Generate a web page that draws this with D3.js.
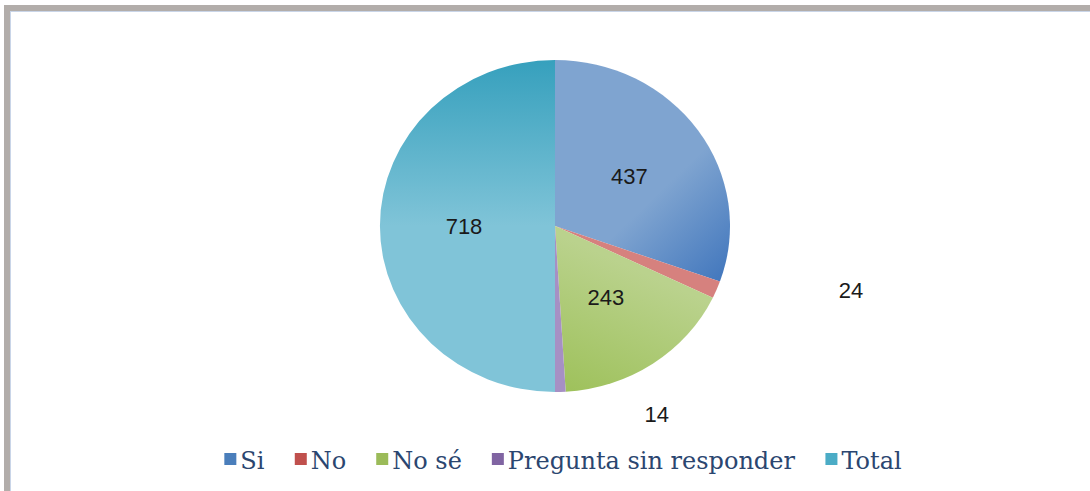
<!DOCTYPE html>
<html>
<head>
<meta charset="utf-8">
<script src="https://cdn.jsdelivr.net/npm/d3@7"></script>
<style>
  html, body { margin: 0; padding: 0; background: #ffffff; }
  svg { display: block; }
</style>
</head>
<body>
<svg id="chart" width="1090" height="491"></svg>
<script>
// Respuestas por categoría
const categories = ["Si", "No", "No sé", "Pregunta sin responder", "Total"];
const values = [437, 24, 243, 14, 718];
const baseColors = ["#4a7ebb", "#c0504d", "#9bbb59", "#8064a2", "#4bacc6"];

const svg = d3.select("#chart");
const W = 1090, H = 491;

// Chart frame (gray border on the top and left, thin inner highlight)
svg.append("rect").attr("x", 4).attr("y", 5).attr("width", W).attr("height", 6).attr("fill", "#b2adaa");
svg.append("rect").attr("x", 4).attr("y", 5).attr("width", 6).attr("height", H).attr("fill", "#b2adaa");
svg.append("line").attr("x1", 10).attr("x2", W).attr("y1", 11.5).attr("y2", 11.5).attr("stroke", "#c9d5e8").attr("stroke-width", 1);
svg.append("line").attr("x1", 10.5).attr("x2", 10.5).attr("y1", 11).attr("y2", H).attr("stroke", "#c9d5e8").attr("stroke-width", 1);

const cx = 555, cy = 226, R = 166, sx = 175 / 166;

const defs = svg.append("defs");

// Shaded fills for the slices (user-space coordinates inside the pie group)
function grad(id, x1, y1, x2, y2, stops) {
  const g = defs.append("linearGradient").attr("id", id)
    .attr("gradientUnits", "userSpaceOnUse")
    .attr("x1", x1).attr("y1", y1).attr("x2", x2).attr("y2", y2);
  stops.forEach(s => g.append("stop").attr("offset", s[0]).attr("stop-color", s[1]));
  return `url(#${id})`;
}
const fills = [
  grad("gSi", 85, -20, 160, 55, [[0, "#7fa4d0"], [1, "#4277bd"]]),
  grad("gNo", 0, 0, 1, 0, [[0, "#d6817e"], [1, "#d6817e"]]),
  grad("gNs", 70, 40, 10, 166, [[0, "#bad28d"], [1, "#9ec15b"]]),
  grad("gPr", 0, 0, 1, 0, [[0, "#a690c4"], [1, "#a690c4"]]),
  grad("gTo", 0, -166, 0, 0, [[0, "#36a0bd"], [1, "#80c4d8"]])
];

const pie = d3.pie().sort(null).value(d => d);
const arcs = pie(values);
const arc = d3.arc().innerRadius(0).outerRadius(R);

const gPie = svg.append("g").attr("transform", `translate(${cx},${cy}) scale(${sx},1)`);
gPie.selectAll("path.slice")
  .data(arcs)
  .enter().append("path")
  .attr("class", "slice")
  .attr("d", arc)
  .attr("fill", (d, i) => fills[i]);

// Data labels: inside slices at the centroid, small slices pushed outward
const labelArc = d3.arc().innerRadius(0).outerRadius(R * 1.04);
const labelShift = [[0, 0], [212, 31], [0, 0], [99, 102], [0, 0]];
svg.append("g").selectAll("text.lbl")
  .data(arcs)
  .enter().append("text")
  .attr("class", "lbl")
  .attr("x", (d, i) => cx + labelArc.centroid(d)[0] * sx + labelShift[i][0])
  .attr("y", (d, i) => cy + labelArc.centroid(d)[1] + labelShift[i][1])
  .attr("text-anchor", "middle")
  .attr("dominant-baseline", "central")
  .attr("font-family", "'Liberation Sans', Arial, sans-serif")
  .attr("font-size", 22)
  .attr("fill", "#1a1a1a")
  .text(d => d.data);

// Legend
const legend = svg.append("g").attr("transform", "translate(0,461)");
const items = legend.selectAll("g.item").data(categories).enter().append("g").attr("class", "item");
items.append("rect")
  .attr("width", 12).attr("height", 12).attr("y", -8)
  .attr("fill", (d, i) => baseColors[i]);
items.append("text")
  .attr("x", 16)
  .attr("y", 0)
  .attr("dominant-baseline", "central")
  .attr("font-family", "'DejaVu Serif', serif")
  .attr("font-size", 24)
  .attr("fill", "#2b4670")
  .text(d => d);

// Lay the legend items out left to right, centred under the pie
const gap = 30;
let widths = [];
items.each(function () { widths.push(this.getBBox().width); });
const total = d3.sum(widths) + gap * (widths.length - 1);
let x = 563 - total / 2;
items.attr("transform", (d, i) => {
  const t = `translate(${x},0)`;
  x += widths[i] + gap;
  return t;
});
</script>
</body>
</html>
